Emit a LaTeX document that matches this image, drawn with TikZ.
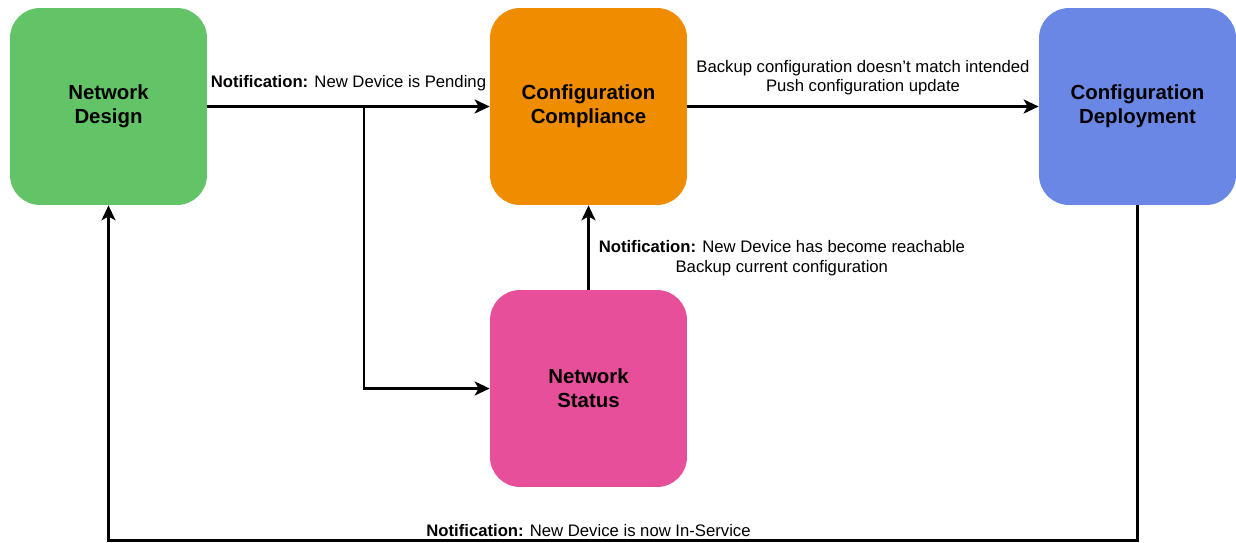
\documentclass[tikz,border=0pt]{standalone}
\usepackage{fontspec}
\setmainfont{Liberation Sans}
\usetikzlibrary{arrows.meta}
\definecolor{designgreen}{RGB}{98,196,102}
\definecolor{complyorange}{RGB}{239,140,0}
\definecolor{deployblue}{RGB}{107,135,229}
\definecolor{statuspink}{RGB}{232,79,155}
\begin{document}
\begin{tikzpicture}[x=0.02cm, y=-0.02cm,
  block/.style={rounded corners=0.6cm, minimum width=3.94cm, minimum height=3.94cm,
    align=center, font=\fontsize{11.6}{13.6}\selectfont\bfseries},
  flow/.style={line width=1.7pt, -{Stealth[length=0.3cm, width=0.28cm, inset=0.08cm]}},
  note/.style={font=\fontsize{9.5}{11.3}\selectfont, align=center, inner sep=1pt}]
  \useasboundingbox (0,0) rectangle (1236,542);
  \node[block, fill=designgreen] (design) at (108.5,106.5) {Network\\Design};
  \node[block, fill=complyorange] (compliance) at (588.5,106.5) {Configuration\\Compliance};
  \node[block, fill=deployblue] (deploy) at (1137.5,106.5) {Configuration\\Deployment};
  \node[block, fill=statuspink] (status) at (588.5,388.5) {Network\\Status};
  \coordinate (split) at (364,106.5);
  \coordinate (loop) at (588.5,540);
  % connectors
  \draw[flow] (design) -- node[note, above=7pt] {\textbf{Notification:} New Device is Pending} (compliance);
  \draw[flow] (split) |- (status);
  \draw[flow] (status) -- node[note, right, pos=0.35, xshift=4pt, yshift=1pt] {\textbf{Notification:} New Device has become reachable\\Backup current configuration} (compliance);
  \draw[flow] (compliance) -- node[note, above=4.5pt] {Backup configuration doesn't match intended\\Push configuration update} (deploy);
  \draw[flow] (deploy) |- (loop) node[note, above] {\textbf{Notification:} New Device is now In-Service} -| (design);
\end{tikzpicture}
\end{document}
